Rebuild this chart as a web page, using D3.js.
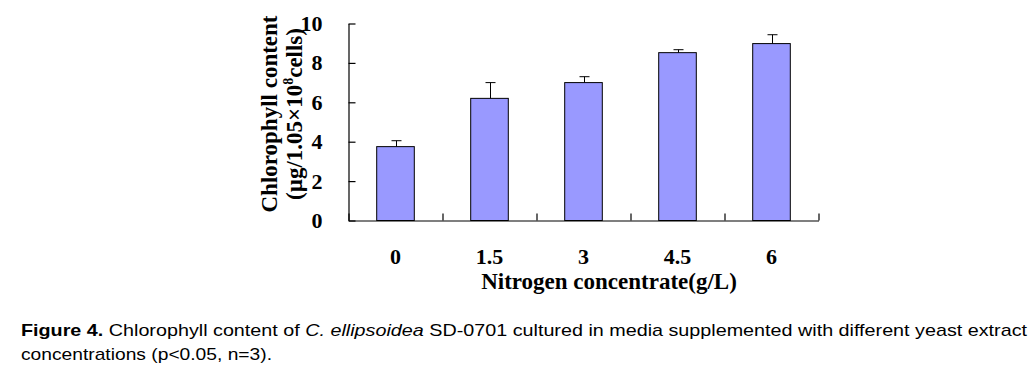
<!DOCTYPE html>
<html>
<head>
<meta charset="utf-8">
<script src="https://cdn.jsdelivr.net/npm/d3@7"></script>
<style>
  body { margin: 0; background: #fff; }
  .serif { font-family: "Liberation Serif", "Times New Roman", serif; font-weight: bold; }
</style>
</head>
<body>
<svg id="chart" width="1033" height="372"></svg>
<script>
// data
const categories = ["0", "1.5", "3", "4.5", "6"];
const values = [3.75, 6.2, 7.0, 8.52, 8.98];
const errors = [0.3, 0.8, 0.3, 0.15, 0.45];
const yTicks = [0, 2, 4, 6, 8, 10];

const svg = d3.select("#chart");

const x = d3.scaleBand()
  .domain(categories)
  .range([348.5, 818.5])
  .paddingInner(0.6)
  .paddingOuter(0.3);

const y = d3.scaleLinear()
  .domain([0, 10])
  .range([220.5, 23.5]);

// boundary ticks between categories
const xEdge = d3.scaleLinear()
  .domain([0, categories.length])
  .range(x.range());

// bars
svg.selectAll(".bar")
  .data(values)
  .enter()
  .append("rect")
  .attr("class", "bar")
  .attr("x", (d, i) => x(categories[i]))
  .attr("y", (d) => y(d))
  .attr("width", x.bandwidth())
  .attr("height", (d) => y(0) - y(d))
  .attr("fill", "#9999ff")
  .attr("stroke", "#000")
  .attr("stroke-width", 1);

// error bars (upper only)
const err = svg.append("g").attr("stroke", "#000").attr("stroke-width", 1);
values.forEach((v, i) => {
  const cx = Math.round(x(categories[i]) + x.bandwidth() / 2) + 0.5;
  err.append("line")
    .attr("x1", cx).attr("x2", cx)
    .attr("y1", y(v)).attr("y2", y(v + errors[i]));
  err.append("line")
    .attr("x1", cx - 5).attr("x2", cx + 5)
    .attr("y1", y(v + errors[i])).attr("y2", y(v + errors[i]));
});

// y axis, ticks pointing inward
const yAxis = svg.append("g")
  .attr("class", "serif")
  .attr("transform", "translate(348.5,0)")
  .call(d3.axisLeft(y).tickValues(yTicks).tickSizeInner(-7).tickSizeOuter(0).tickPadding(26));

// x axis: labels at band centres
const xAxis = svg.append("g")
  .attr("class", "serif")
  .attr("transform", "translate(0,220.5)")
  .call(d3.axisBottom(x).tickSize(0).tickPadding(28));
xAxis.select(".domain").remove();

// x axis line + inward boundary ticks
const xLine = svg.append("g")
  .attr("transform", "translate(0,220.5)")
  .call(d3.axisBottom(xEdge).ticks(categories.length).tickSizeInner(-7).tickSizeOuter(0).tickFormat(""));

[yAxis, xAxis, xLine].forEach((g) => {
  g.selectAll("path, line").attr("stroke", "#000").attr("stroke-width", 1.2);
});
svg.selectAll(".serif text")
  .attr("fill", "#000")
  .style("font-family", "'Liberation Serif', 'Times New Roman', serif")
  .style("font-weight", "bold")
  .style("font-size", "22px");

// axis titles
const yTitle = svg.append("text")
  .attr("class", "serif")
  .attr("transform", "translate(277,114) rotate(-90)")
  .attr("text-anchor", "middle")
  .style("font-size", "23px");
yTitle.append("tspan").attr("x", 0).attr("y", 0).text("Chlorophyll content");
const l2 = yTitle.append("tspan").attr("x", 0).attr("y", 25);
l2.append("tspan").text("(µg/1.05×10");
l2.append("tspan").attr("dy", -9).style("font-size", "14px").text("8");
l2.append("tspan").attr("dy", 9).text("cells)");

svg.append("text")
  .attr("class", "serif")
  .attr("x", 609)
  .attr("y", 289)
  .attr("text-anchor", "middle")
  .style("font-size", "23px")
  .text("Nitrogen concentrate(g/L)");

// caption (the original is set wider than the font's natural width)
const cap = svg.append("g")
  .style("font-family", "'Liberation Sans', Arial, sans-serif")
  .style("font-size", "17px")
  .attr("fill", "#000");
const c1 = cap.append("text").attr("x", 21).attr("y", 336)
  .attr("textLength", 1006).attr("lengthAdjust", "spacingAndGlyphs");
c1.append("tspan").style("font-weight", "bold").text("Figure 4.");
c1.append("tspan").text(" Chlorophyll content of ");
c1.append("tspan").style("font-style", "italic").text("C. ellipsoidea");
c1.append("tspan").text(" SD-0701 cultured in media supplemented with different yeast extract");
cap.append("text").attr("x", 21).attr("y", 360)
  .attr("textLength", 251).attr("lengthAdjust", "spacingAndGlyphs")
  .text("concentrations (p<0.05, n=3).");
</script>
</body>
</html>
